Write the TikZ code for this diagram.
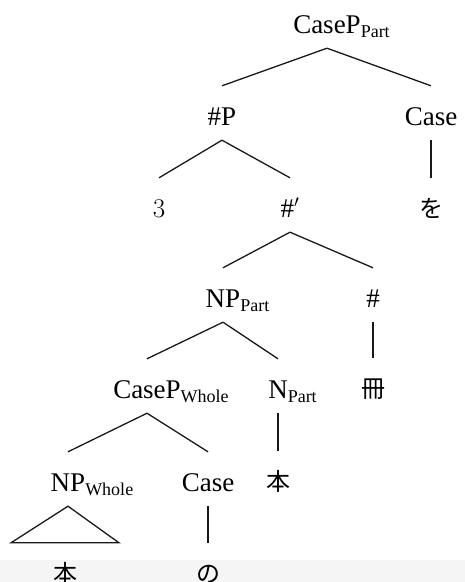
\documentclass[tikz,border=0pt]{standalone}
\usepackage{fontspec}
\setmainfont{Liberation Serif}
\newfontfamily\jafont{Noto Sans CJK JP}
\usetikzlibrary{positioning}

% subscript that takes no width, so the node centres on the head label
\newcommand{\catsub}[1]{\rlap{\raisebox{-4pt}{\fontsize{18}{18}\selectfont #1}}}
\newcommand{\ja}[1]{{\jafont\fontsize{24}{24}\selectfont #1}}
\newcommand{\lmnum}[1]{{\fontfamily{lmr}\selectfont #1}}

\begin{document}
\begin{tikzpicture}[
      x=1pt, y=-1pt,
      cat/.style={font=\fontsize{27}{30}\selectfont, anchor=base,
                  inner xsep=0pt, inner ysep=9pt,
                  text height=30pt, text depth=6pt},
      branch/.style={line width=1.3pt, black!90}
    ]
    \useasboundingbox (0,0) rectangle (465,582);
    \fill[black!4] (0,560) rectangle (465,582);

    % --- categories and words ---
    \node[cat] (casepPart) at (327,33) {CaseP\catsub{Part}};
    \node[cat] (numP) at (222,125) {\#P};
    \node[cat] (caseHi) at (431,125) {Case};
    \node[cat] (three) at (159,217) {\lmnum{3}};
    \node[cat] (numBar) at (290,217) {\#$'$};
    \node[cat] (wo) at (431,217) {\ja{を}};
    \node[cat] (npPart) at (223,307) {NP\catsub{Part}};
    \node[cat] (num) at (373,307) {\#};
    \node[cat] (casepWhole) at (147,398) {CaseP\catsub{Whole}};
    \node[cat] (nPart) at (278,398) {N\catsub{Part}};
    \node[cat] (satsu) at (373,397) {\ja{冊}};
    \node[cat] (npWhole) at (68,491) {NP\catsub{Whole}};
    \node[cat] (caseLo) at (208,491) {Case};
    \node[cat] (honPart) at (278,490) {\ja{本}};
    \node[cat] (honWhole) at (65,582) {\ja{本}};
    \node[cat] (no) at (208,582) {\ja{の}};

    % --- branches ---
    \draw[branch] (casepPart.south) -- (numP.north);
    \draw[branch] (casepPart.south) -- (caseHi.north);
    \draw[branch] (numP.south) -- (three.north);
    \draw[branch] (numP.south) -- (numBar.north);
    \draw[branch] (caseHi.south) -- (wo.north);
    \draw[branch] (numBar.south) -- (npPart.north);
    \draw[branch] (numBar.south) -- (num.north);
    \draw[branch] (num.south) -- (satsu.north);
    \draw[branch] (npPart.south) -- (casepWhole.north);
    \draw[branch] (npPart.south) -- (nPart.north);
    \draw[branch] (nPart.south) -- (honPart.north);
    \draw[branch] (casepWhole.south) -- (npWhole.north);
    \draw[branch] (casepWhole.south) -- (caseLo.north);
    \draw[branch] (caseLo.south) -- (no.north);
    % roof over the unanalysed NP
    \draw[branch] (npWhole.south) -- ([xshift=-54pt]honWhole.north)
      -- ([xshift=54pt]honWhole.north) -- cycle;
\end{tikzpicture}
\end{document}
